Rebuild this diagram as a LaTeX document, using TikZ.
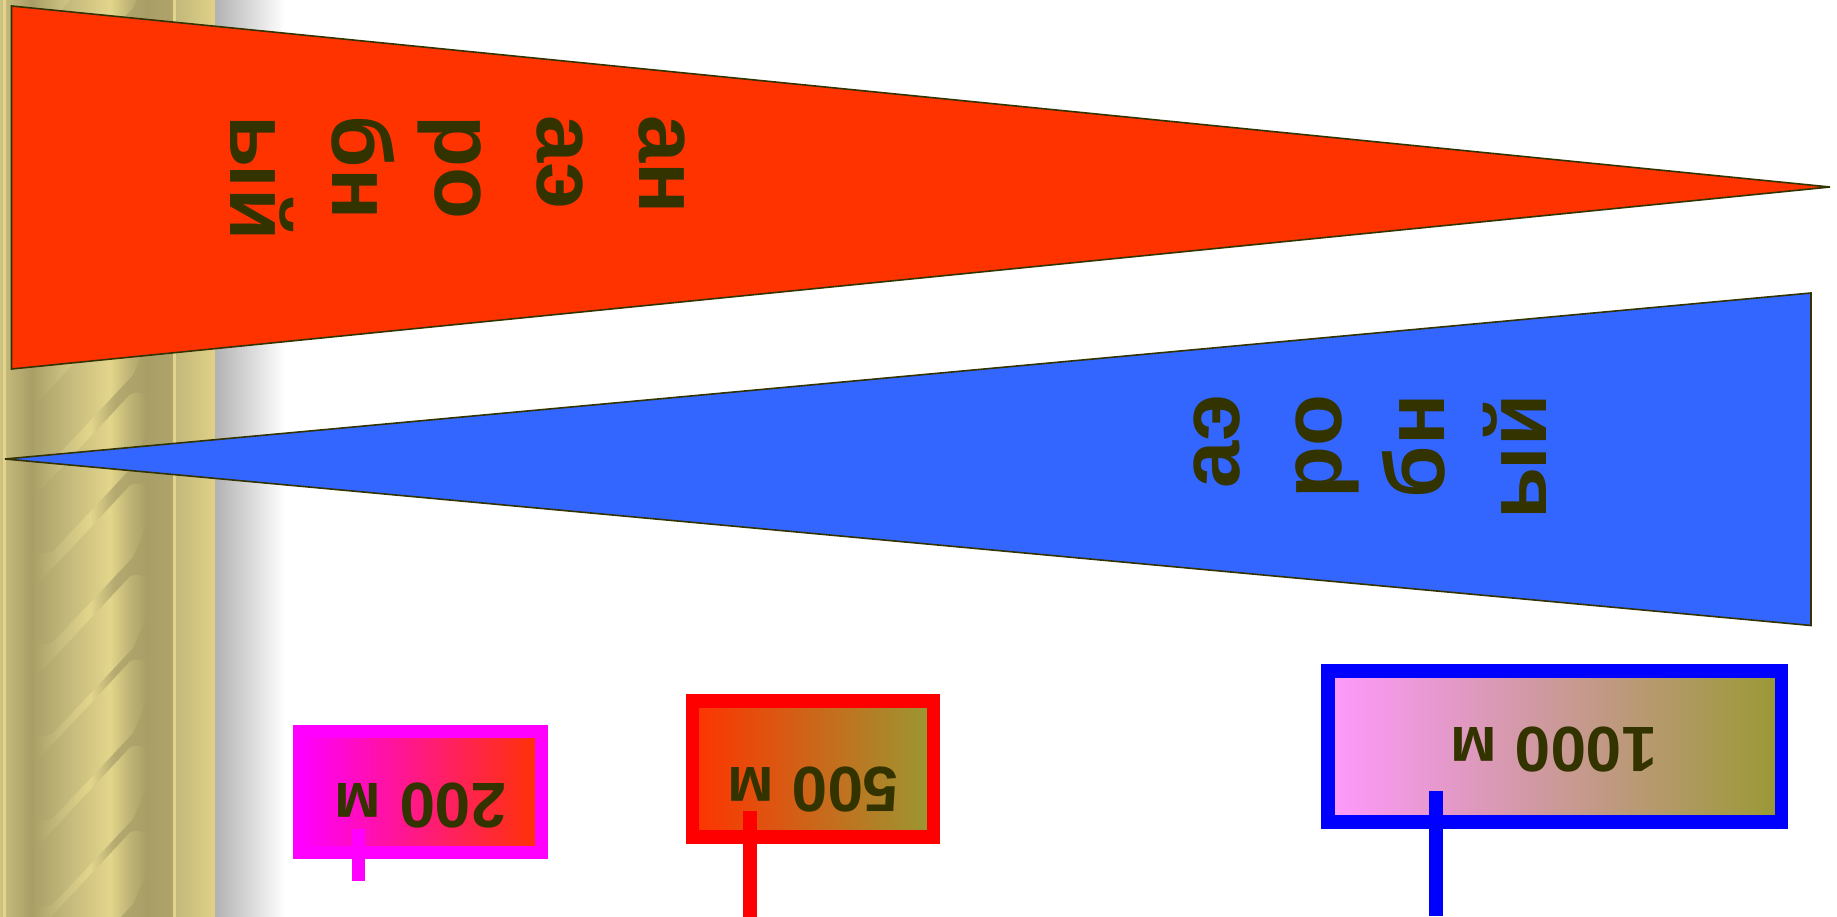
\documentclass[tikz,border=0pt]{standalone}
\usepackage{fontspec}
\setmainfont{Liberation Sans}
\definecolor{txt}{HTML}{333300}
\definecolor{gd}{HTML}{A89E66}
\definecolor{gl}{HTML}{E3D58B}
\definecolor{gm}{HTML}{C4B87A}
\definecolor{gn}{HTML}{B4AA70}
\definecolor{ge}{HTML}{AEA46B}
\definecolor{gr}{HTML}{DFD188}
\definecolor{gp}{HTML}{CFC382}
\definecolor{gq}{HTML}{C8BD7F}
\definecolor{gs}{HTML}{ADA36A}
\definecolor{gt}{HTML}{C6BB7D}
\definecolor{gu}{HTML}{C2B777}
\definecolor{redfill}{HTML}{FF3300}
\definecolor{bluefill}{HTML}{3366FF}
\definecolor{olive}{HTML}{999933}
\definecolor{pinkl}{HTML}{FF99FF}
\definecolor{mag}{HTML}{FF00FF}
\definecolor{pureblue}{HTML}{0000FF}
\definecolor{purered}{HTML}{FF0000}
% positions: 25bp = x 0 ; 75bp = x 215 (bp = 25 + 50 x/215)
\pgfdeclarehorizontalshading{basegold}{100bp}{
 color(0bp)=(gp); color(25bp)=(gp); color(26.4bp)=(gm); color(32.4bp)=(gd);
 color(39bp)=(gq); color(45.9bp)=(gl); color(51.7bp)=(gn); color(59.2bp)=(gd);
 color(65bp)=(ge); color(65.8bp)=(gm); color(75bp)=(gr); color(100bp)=(gr)}
% 25bp = x 38 ; 75bp = x 147 (bp = 25 + 50 (x-38)/109)
\pgfdeclarehorizontalshading{bandgold}{100bp}{
 color(0bp)=(gs); color(25bp)=(gs); color(40bp)=(gt); color(58bp)=(gl); color(66bp)=(gu);
 color(75bp)=(gd); color(100bp)=(gd)}
\tikzset{
 tri/.style={draw=txt,line width=1.6pt,line join=miter},
 bigtxt/.style={font=\fontsize{85}{102.3}\selectfont\bfseries,text=txt,inner sep=0pt},
 labtxt/.style={font=\fontsize{64}{70}\selectfont\bfseries,text=txt,inner sep=0pt,rotate=180},
 stem/.style={line width=13.5pt},
}
\begin{document}
\begin{tikzpicture}[x=1pt,y=-1pt]
\useasboundingbox (0,0) rectangle (1837,917);
% side panel
\path[shading=basegold] (0,0) rectangle (215,917);
\begin{scope}
\clip (0,0) rectangle (215,917);
\foreach \T in {-65,22,110,200,302,393,484,575,660,746,831}{
 \begin{scope}[yshift=-\T pt]
 \path[shading=bandgold] (38,100) -- (130,1.5)
   .. controls (135,-1) and (147,-2) .. (147,8) -- (147,28)
   .. controls (147,42) and (143,50) .. (133,73) -- (53,158)
   .. controls (48,161) and (42,161) .. (38,160) -- cycle;
 \end{scope}
}
\end{scope}
\fill[gl] (3,0) rectangle (5.5,917);
\fill[gl] (173,0) rectangle (175.5,917);
\path[left color=black!30,right color=white] (215,0) rectangle (285,917);
% wedges
\draw[tri,fill=redfill] (11.5,6) -- (1830,187) -- (11.5,369) -- cycle;
\draw[tri,fill=bluefill] (5,459) -- (1811,293) -- (1811,625.5) -- cycle;
\node[bigtxt,rotate=-90,align=left] (anaer) at (458,178) {ан\\аэ\\ро\\бн\\ый};
\node[bigtxt,rotate=90,align=right] (aer) at (1370,457) {аэ\\ро\\бн\\ый};
% legend boxes
\draw[line width=13pt,draw=mag,left color=mag,right color=redfill] (299,731.5) rectangle (541.5,852);
\draw[line width=13.5pt,draw=purered,left color=redfill,right color=olive] (692.5,701) rectangle (933.5,837);
\draw[line width=13.5pt,draw=pureblue,left color=pinkl,right color=olive] (1328,671) rectangle (1781.5,822);
\node[labtxt] (l200) at (420.5,805.5) {200 м};
\node[labtxt] (l500) at (813,790) {500 м};
\node[labtxt] (l1000) at (1553.5,750) {1000 м};
\coordinate (s200a) at (358.3,829);
\coordinate (s200b) at (358.3,881);
\coordinate (s500a) at (750,811);
\coordinate (s500b) at (750,917);
\coordinate (s1000a) at (1436,791);
\coordinate (s1000b) at (1436,915.5);
\draw[stem,mag] (s200a) -- (s200b);
\draw[stem,purered] (s500a) -- (s500b);
\draw[stem,pureblue] (s1000a) -- (s1000b);
\end{tikzpicture}
\end{document}
